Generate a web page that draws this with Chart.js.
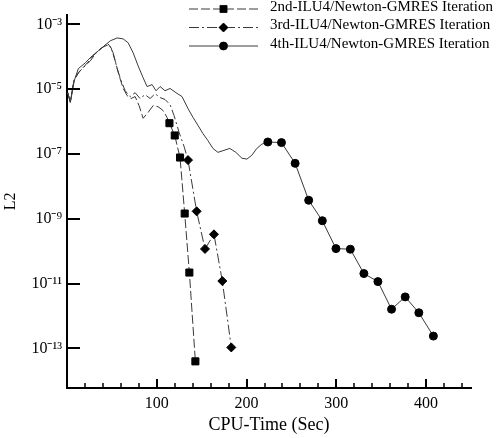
<!DOCTYPE html>
<html>
<head>
<meta charset="utf-8">
<script src="https://cdn.jsdelivr.net/npm/chart.js@4/dist/chart.umd.min.js"></script>
<style>
html,body{margin:0;padding:0;background:#fff;}
canvas{display:block;}
</style>
</head>
<body>
<canvas id="c" width="498" height="438"></canvas>
<script>
// ---- data ----
const seriesNames = [
  '2nd-ILU4/Newton-GMRES Iteration',
  '3rd-ILU4/Newton-GMRES Iteration',
  '4th-ILU4/Newton-GMRES Iteration'
];
// 2nd: unmarked start-up history
const s2Time = [0.9, 3.7, 8.1, 14.8, 22.6, 29.2, 34.8, 40.3, 44.8, 49.2, 53.7, 58.1, 62.6, 67.0, 71.4, 75.9, 80.3, 84.8, 90.3, 95.9, 101.4, 107.0, 111.4];
const s2L2 = [7.76e-6, 3.89e-6, 2.09e-5, 3.72e-5, 6.46e-5, 1.07e-4, 1.51e-4, 2.0e-4, 2.69e-4, 1.86e-4, 7.41e-5, 2.57e-5, 1.05e-5, 6.31e-6, 5.13e-6, 5.89e-6, 3.09e-6, 1.26e-6, 1.91e-6, 3.09e-6, 2.88e-6, 2.19e-6, 1.35e-6];
// 2nd: marked Newton iterations
const s2MarkTime = [114.1, 120.0, 125.9, 131.1, 136.3, 143.0];
const s2MarkL2 = [8.91e-7, 3.72e-7, 7.76e-8, 1.45e-9, 2.19e-11, 3.98e-14];

const s3Time = [0.9, 3.7, 7.0, 12.6, 19.2, 25.9, 32.6, 38.1, 42.6, 47.0, 51.4, 55.9, 60.3, 64.8, 70.3, 75.9, 81.4, 87.0, 92.6, 98.1, 103.7, 109.2, 114.8, 119.2, 124.8, 130.3];
const s3L2 = [7.76e-6, 3.89e-6, 1.58e-5, 3.24e-5, 4.90e-5, 7.41e-5, 1.32e-4, 1.86e-4, 2.14e-4, 2.34e-4, 1.32e-4, 4.27e-5, 1.82e-5, 8.91e-6, 5.89e-6, 7.76e-6, 5.13e-6, 6.76e-6, 5.13e-6, 7.24e-6, 5.50e-6, 4.79e-6, 3.31e-6, 1.55e-6, 4.68e-7, 1.74e-7];
const s3MarkTime = [134.8, 144.4, 153.7, 163.7, 173.0, 183.0];
const s3MarkL2 = [6.46e-8, 1.70e-9, 1.17e-10, 3.31e-10, 1.20e-11, 1.07e-13];

const s4Time = [0.9, 3.7, 8.1, 12.6, 20.3, 28.1, 34.8, 41.4, 48.1, 55.9, 62.6, 68.1, 73.7, 79.2, 84.8, 89.2, 94.8, 99.2, 103.7, 109.2, 114.8, 121.4, 128.1, 134.8, 140.3, 145.9, 151.4, 157.0, 162.6, 168.1, 174.8, 181.4, 188.1, 194.8, 200.3, 205.9, 211.4, 217.0];
const s4L2 = [7.76e-6, 3.89e-6, 1.82e-5, 4.27e-5, 6.46e-5, 1.07e-4, 1.51e-4, 2.14e-4, 3.09e-4, 3.80e-4, 3.55e-4, 2.69e-4, 1.32e-4, 5.25e-5, 2.24e-5, 1.20e-5, 1.38e-5, 8.91e-6, 1.20e-5, 8.91e-6, 1.05e-5, 7.76e-6, 5.89e-6, 2.51e-6, 1.35e-6, 7.59e-7, 4.27e-7, 2.57e-7, 1.48e-7, 1.12e-7, 1.29e-7, 1.48e-7, 1.12e-7, 7.41e-8, 6.92e-8, 9.12e-8, 1.48e-7, 2.0e-7];
const s4MarkTime = [223.7, 238.9, 254.1, 269.2, 284.4, 299.6, 315.6, 330.7, 346.3, 361.5, 376.7, 391.9, 408.1];
const s4MarkL2 = [2.34e-7, 2.24e-7, 5.13e-8, 3.72e-9, 8.71e-10, 1.20e-10, 1.15e-10, 2.04e-11, 1.15e-11, 1.62e-12, 3.89e-12, 1.26e-12, 2.40e-13];

const xTickLabels = [100, 200, 300, 400];
const xMinorTicks = [20, 40, 60, 80, 120, 140, 160, 180, 220, 240, 260, 280, 320, 340, 360, 380, 420, 440];
const yTickValues = [1e-13, 1e-11, 1e-9, 1e-7, 1e-5, 1e-3];
const yTickLabels = ['10\u207B\u00B9\u00B3', '10\u207B\u00B9\u00B9', '10\u207B\u2079', '10\u207B\u2077', '10\u207B\u2075', '10\u207B\u00B3'];

// ---- styles ----
const FONT = "'Liberation Serif', 'Times New Roman', serif";
const LINE_COLOR = '#3a3a3a';
const dashes = [[9, 3], [10, 3, 2, 3], []];
const pStyles = ['rect', 'rectRot', 'circle'];
const pRadii = [5, 4.5, 4];

function build(t, v, mt, mv, idx) {
  const pts = [], radii = [];
  t.forEach((x, i) => { pts.push({x: x, y: v[i]}); radii.push(0); });
  mt.forEach((x, i) => { pts.push({x: x, y: mv[i]}); radii.push(pRadii[idx]); });
  return {
    label: seriesNames[idx],
    data: pts,
    borderColor: LINE_COLOR,
    borderWidth: 1,
    borderDash: dashes[idx],
    pointStyle: pStyles[idx],
    pointRadius: radii,
    pointHoverRadius: radii,
    pointBackgroundColor: '#000',
    pointBorderColor: '#000',
    pointBorderWidth: 1,
    tension: 0,
    fill: false
  };
}

const datasets = [
  build(s2Time, s2L2, s2MarkTime, s2MarkL2, 0),
  build(s3Time, s3L2, s3MarkTime, s3MarkL2, 1),
  build(s4Time, s4L2, s4MarkTime, s4MarkL2, 2)
];

// inward tick marks + legend
const decor = {
  id: 'decor',
  afterDraw(chart) {
    const ctx = chart.ctx;
    const xs = chart.scales.x, ys = chart.scales.y;
    const ca = chart.chartArea;
    ctx.save();
    ctx.strokeStyle = '#000';
    ctx.lineWidth = 2;
    ctx.setLineDash([]);
    ctx.beginPath();
    yTickValues.forEach(v => {
      const y = Math.round(ys.getPixelForValue(v));
      ctx.moveTo(ca.left, y); ctx.lineTo(ca.left + 13, y);
    });
    xTickLabels.forEach(v => {
      const x = Math.round(xs.getPixelForValue(v));
      ctx.moveTo(x, ca.bottom); ctx.lineTo(x, ca.bottom - 9);
    });
    ctx.stroke();
    ctx.lineWidth = 1.5;
    ctx.beginPath();
    xMinorTicks.forEach(v => {
      const x = Math.round(xs.getPixelForValue(v));
      ctx.moveTo(x, ca.bottom); ctx.lineTo(x, ca.bottom - 5);
    });
    ctx.stroke();

    // legend
    const rowsY = [9, 27.5, 46];
    const lx0 = 189, lx1 = 258, mx = 223.5, tx = 270;
    ctx.font = '15px ' + FONT;
    ctx.textBaseline = 'middle';
    ctx.textAlign = 'left';
    ctx.fillStyle = '#000';
    seriesNames.forEach((name, i) => {
      const y = rowsY[i];
      ctx.strokeStyle = LINE_COLOR;
      ctx.lineWidth = 1;
      ctx.setLineDash(dashes[i]);
      ctx.beginPath();
      ctx.moveTo(lx0, y); ctx.lineTo(lx1, y);
      ctx.stroke();
      ctx.setLineDash([]);
      Chart.helpers.drawPoint(ctx, {pointStyle: pStyles[i], radius: pRadii[i], rotation: 0, borderWidth: 1}, mx, y);
      ctx.fillStyle = '#000';
      ctx.fill();
      ctx.fillText(name, tx, y - 2);
    });
    ctx.restore();
  }
};

new Chart(document.getElementById('c'), {
  type: 'line',
  data: { datasets: datasets },
  plugins: [decor],
  options: {
    responsive: false,
    animation: false,
    events: [],
    layout: { padding: { top: 13, right: 27, left: 0, bottom: 0 } },
    plugins: { legend: { display: false }, tooltip: { enabled: false } },
    scales: {
      x: {
        type: 'linear',
        min: 0, max: 450,
        grid: { display: false, drawTicks: false },
        border: { display: true, color: '#000', width: 2 },
        afterBuildTicks: (s) => { s.ticks = xTickLabels.map(v => ({value: v})); },
        ticks: { color: '#000', font: { family: FONT, size: 16 }, padding: 6, maxRotation: 0 },
        title: { display: true, text: 'CPU-Time (Sec)', color: '#000', font: { family: FONT, size: 18 }, padding: { top: 0, bottom: 2 } },
        afterFit: (s) => { s.height = 50; }
      },
      y: {
        type: 'logarithmic',
        min: Math.pow(10, -14.2), max: Math.pow(10, -2.7),
        grid: { display: false, drawTicks: false },
        border: { display: true, color: '#000', width: 2 },
        afterBuildTicks: (s) => { s.ticks = yTickValues.map(v => ({value: v})); },
        ticks: {
          color: '#000', font: { family: FONT, size: 16 }, padding: 5,
          callback: (v) => { const i = yTickValues.findIndex(t => Math.abs(t - v) / t < 1e-6); return i >= 0 ? yTickLabels[i] : ''; }
        },
        title: { display: true, text: 'L2', color: '#000', font: { family: FONT, size: 16 }, padding: { top: 1, bottom: 0 } },
        afterFit: (s) => { s.width = 67; }
      }
    }
  }
});
</script>
</body>
</html>
